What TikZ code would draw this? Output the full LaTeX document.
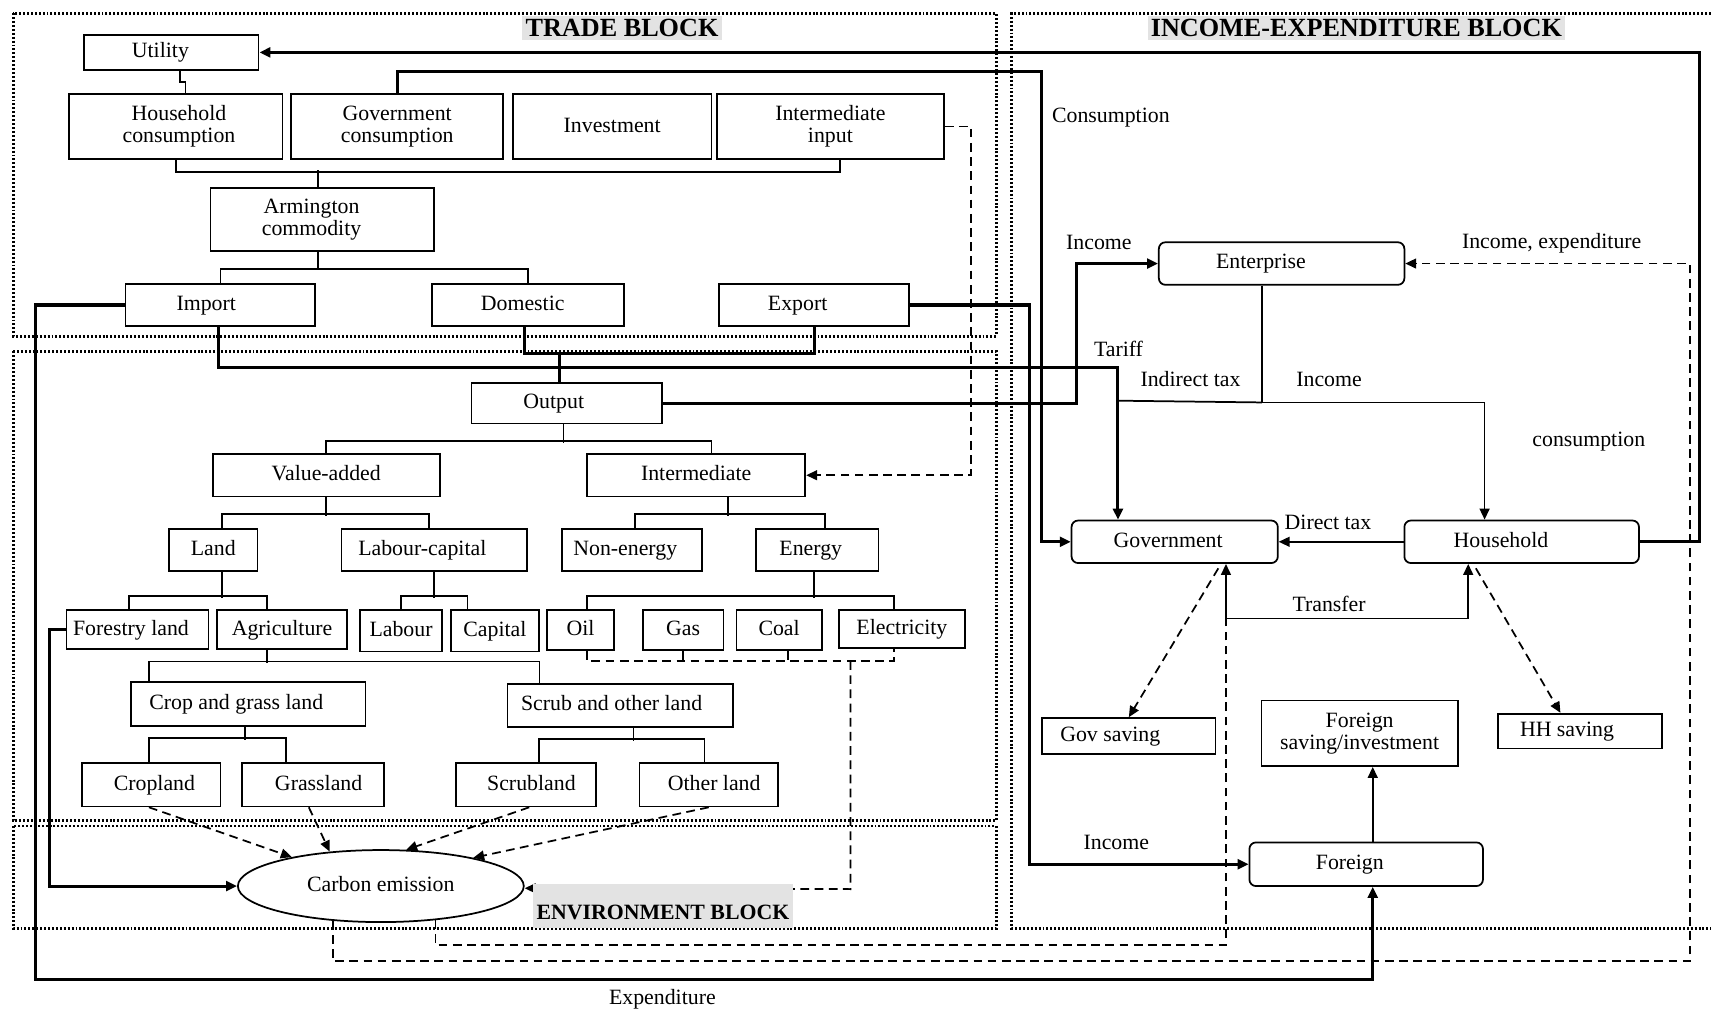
\documentclass[tikz,border=0pt]{standalone}
\usepackage{fontspec}
\setmainfont{Liberation Serif}
\usetikzlibrary{arrows.meta,calc,shapes.geometric}
\begin{document}
\begin{tikzpicture}[x=0.5pt,y=-0.5pt,
  box/.style={draw, line width=0.8pt, inner sep=1pt, align=center, font=\fontsize{10}{10}\selectfont, text height=7pt, text depth=2pt},
  two/.style={text height=, text depth=},
  rbox/.style={box, rounded corners=3pt},
  flow/.style={line width=1.4pt},
  tree/.style={line width=0.8pt},
  dsh/.style={line width=0.8pt, dash pattern=on 4pt off 2.5pt},
  blk/.style={line width=1.3pt, dash pattern=on 0.9pt off 0.9pt},
  lab/.style={font=\fontsize{10}{10}\selectfont, inner sep=1pt},
  head/.style={fill=gray!22, font=\bfseries\fontsize{12}{12}\selectfont, inner sep=1.5pt},
  tip/.style={-{Triangle[length=5pt,width=4.5pt]}},
  tips/.style={{Triangle[length=5pt,width=4.5pt]}-{Triangle[length=5pt,width=4.5pt]}}
]
\useasboundingbox (0,0) rectangle (1568,928);

% ---- blocks ----
\draw[blk] (12,12) rectangle (913,308);
\draw[blk] (12,322) rectangle (913,752);
\draw[blk] (12,757) rectangle (913,851);
\draw[blk] (1568,12) -- (927,12) -- (927,851) -- (1568,851);
\node[head] (htrade) at (570,26) {TRADE BLOCK};
\node[head] (hinc) at (1243,26) {INCOME-EXPENDITURE BLOCK};

% ---- trade block nodes ----
\node[box, minimum width=80pt, minimum height=16pt] (util) at (157,48) {Utility\hspace*{10pt}};
\node[box, two, minimum width=98pt, minimum height=30pt] (hhc) at (161,116) {\hspace*{3pt}Household\\\hspace*{3pt}consumption};
\node[box, two, minimum width=97pt, minimum height=30pt] (govc) at (364,116) {Government\\consumption};
\node[box, minimum width=91pt, minimum height=30pt] (inv) at (561,116) {Investment};
\node[box, two, minimum width=104pt, minimum height=30pt] (intin) at (761,116) {Intermediate\\input};
\node[box, two, minimum width=102.5pt, minimum height=29pt] (arm) at (295.5,201) {Armington\hspace*{10pt}\\commodity\hspace*{10pt}};
\node[box, minimum width=87pt, minimum height=19.5pt] (imp) at (202,279.5) {Import\hspace*{13pt}};
\node[box, minimum width=88pt, minimum height=19.5pt] (dom) at (484,279.5) {Domestic\hspace*{5pt}};
\node[box, minimum width=87pt, minimum height=19.5pt] (exp) at (746,279.5) {Export\hspace*{15pt}};

% ---- production nodes ----
\node[box, minimum width=87.5pt, minimum height=18.5pt] (out) at (519.5,369.5) {Output\hspace*{12pt}};
\node[box, minimum width=104pt, minimum height=19.5pt] (va) at (299,435.5) {Value-added};
\node[box, minimum width=100pt, minimum height=19.5pt] (inter) at (638,435.5) {Intermediate};
\node[box, minimum width=40.5pt, minimum height=19pt] (land) at (195.5,504) {Land};
\node[box, minimum width=85pt, minimum height=19pt] (labcap) at (398,504) {Labour-capital\hspace*{11pt}};
\node[box, minimum width=64pt, minimum height=19pt] (nonen) at (579,504) {Non-energy\hspace*{6pt}};
\node[box, minimum width=56pt, minimum height=19pt] (energy) at (749,504) {Energy\hspace*{6pt}};
\node[box, minimum width=65pt, minimum height=18pt] (forest) at (126,577) {Forestry land\hspace*{6pt}};
\node[box, minimum width=59.5pt, minimum height=18pt] (agri) at (258.5,577) {Agriculture};
\node[box, minimum width=37.5pt, minimum height=19pt] (labour) at (367.5,578) {Labour};
\node[box, minimum width=40.5pt, minimum height=19pt] (capital) at (453.5,578) {Capital};
\node[box, minimum width=31pt, minimum height=18.5pt] (oil) at (532,577.5) {Oil};
\node[box, minimum width=37pt, minimum height=18.5pt] (gas) at (626,577.5) {Gas};
\node[box, minimum width=39pt, minimum height=18.5pt] (coal) at (714,577.5) {Coal};
\node[box, minimum width=57.5pt, minimum height=17.5pt] (elec) at (826.5,576.5) {Electricity};
\node[box, minimum width=107.5pt, minimum height=20pt] (cgl) at (227.5,645) {Crop and grass land\hspace*{11pt}};
\node[box, minimum width=103.5pt, minimum height=19.5pt] (sol) at (568.5,646.5) {Scrub and other land\hspace*{8pt}};
\node[box, minimum width=63.5pt, minimum height=20pt] (cropland) at (138.5,719) {\hspace*{3pt}Cropland};
\node[box, minimum width=65pt, minimum height=20pt] (grass) at (287,719) {\hspace*{5pt}Grassland};
\node[box, minimum width=64pt, minimum height=20pt] (scrub) at (482,719) {\hspace*{5pt}Scrubland};
\node[box, minimum width=63.5pt, minimum height=20pt] (other) at (649.5,719) {\hspace*{5pt}Other land};
\node[box, ellipse, minimum width=131pt, minimum height=33pt] (carbon) at (349,812) {Carbon emission};

% ---- income-expenditure nodes ----
\node[rbox, minimum width=112.5pt, minimum height=19.5pt] (ent) at (1174.5,241.5) {Enterprise\hspace*{19pt}};
\node[rbox, minimum width=94.5pt, minimum height=19.5pt] (gov) at (1076.5,496.5) {Government\hspace*{6pt}};
\node[rbox, minimum width=107.5pt, minimum height=19.5pt] (hh) at (1394.5,496.5) {Household\hspace*{19pt}};
\node[box, minimum width=79.5pt, minimum height=16.5pt] (govsav) at (1034.5,674.5) {Gov saving\hspace*{17pt}};
\node[box, two, minimum width=90pt, minimum height=30pt] (fsav) at (1246,672) {Foreign\\saving/investment};
\node[box, minimum width=75pt, minimum height=16pt] (hhsav) at (1448,670) {HH saving\hspace*{12pt}};
\node[rbox, minimum width=107pt, minimum height=20pt] (foreign) at (1252,792) {Foreign\hspace*{15pt}};

% ---- labels ----
\node[lab] (lcons) at (1018,108) {Consumption};
\node[lab] (linc1) at (1007,222) {Income};
\node[lab] (lie) at (1422,223) {Income, expenditure};
\node[lab] (ltar) at (1025,320) {Tariff};
\node[lab] (lind) at (1091,347) {Indirect tax};
\node[lab] (linc2) at (1218,348) {Income};
\node[lab] (lcons2) at (1456,405) {consumption};
\node[lab] (ldt) at (1217,479) {Direct tax};
\node[lab] (ltr) at (1218,553) {Transfer};
\node[lab] (linc3) at (1023,772) {Income};
\node[lab] (lexp) at (607,916) {Expenditure};

% ---- trade block connectors ----
\draw[tree] ($(util.south)+(8,0)$) -- ++(0,10) -| ($(hhc.north)+(9,0)$);
\draw[tree] (hhc.south) -- ++(0,11) -| ($(intin.south)+(9,0)$);
\draw[tree] ($(arm.north)+(-4,0)$) -- ++(0,-15);
\draw[tree] ($(arm.south)+(-4,0)$) -- ++(0,17);
\draw[tree] (imp.north) -- ++(0,-13) -| (dom.north);
\draw[flow] ($(dom.south)+(-3,0)$) -- ++(0,24) -| (exp.south);
\draw[flow] ($(out.north)+(-7,0)$) -- ++(0,-28);
\draw[flow, tip] ($(imp.south)+(-2,0)$) -- ++(0,37) -| ($(gov.north)+(-52,0)$);
\draw[flow, tip] (out.east) -| ($(ent.west)+(-75,0)$) -- (ent.west);
\draw[flow, tip] (imp.west) -- ++(-82,0) |- ($(foreign.south)+(6,85)$) -- ($(foreign.south)+(6,0)$);
\draw[flow, tip] (exp.east) -| ($(foreign.west)+(-201,0)$) -- (foreign.west);
\draw[flow, tip] (govc.north) -- ++(0,-20) -| ($(gov.west)+(-27,0)$) -- (gov.west);
\draw[flow, tip] (hh.east) -- ++(55,0) |- (util.east);
\draw[dsh, tip] (intin.east) -- ++(24,0) |- (inter.east);

% ---- production tree ----
\draw[tree] ($(out.south)+(-3,0)$) -- ++(0,17);
\draw[tree] (va.north) -- ++(0,-11) -| ($(inter.north)+(14,0)$);
\draw[tree] (va.south) -- ++(0,17);
\draw[tree] ($(land.north)+(8,0)$) -- ++(0,-13) -| ($(labcap.north)+(-5,0)$);
\draw[tree] ($(inter.south)+(29,0)$) -- ++(0,17);
\draw[tree] ($(nonen.north)+(3,0)$) -- ++(0,-13) -| ($(energy.north)+(7,0)$);
\draw[tree] ($(land.south)+(8,0)$) -- ++(0,24);
\draw[tree] ($(forest.north)+(-8,0)$) -- ++(0,-12) -| ($(agri.north)+(-14,0)$);
\draw[tree] (labcap.south) -- ++(0,24);
\draw[tree] (labour.north) -- ++(0,-12) -| ($(capital.north)+(-25,0)$);
\draw[tree] ($(energy.south)+(-3,0)$) -- ++(0,24);
\draw[tree] ($(oil.north)+(6,0)$) -- ++(0,-12) -| ($(elec.north)+(-7,0)$);
\draw[tree] ($(agri.south)+(-14,0)$) -- ++(0,12);
\draw[tree] ($(cgl.north)+(-91,0)$) -- ++(0,-18) -| ($(sol.north)+(-74,0)$);
\draw[tree] ($(cgl.south)+(-3,0)$) -- ++(0,12);
\draw[tree] ($(cropland.north)+(-2,0)$) -- ++(0,-22) -| ($(grass.north)+(-25,0)$);
\draw[tree] ($(sol.south)+(12,0)$) -- ++(0,12);
\draw[tree] ($(scrub.north)+(12,0)$) -- ++(0,-21) -| ($(other.north)+(-4,0)$);

% ---- energy / land to carbon ----
\draw[dsh] ($(oil.south)+(6,0)$) -- ++(0,9) -| ($(elec.south)+(-7,0)$);
\draw[dsh] (gas.south) -- ++(0,9);
\draw[dsh] ($(coal.south)+(8,0)$) -- ++(0,9);
\draw[dsh, tip] ($(elec.south)+(-47,11)$) -- ++(0,209) -- ($(carbon.east)+(0,2)$);
\node[fill=gray!22, minimum width=119.5pt, minimum height=20pt, inner sep=0pt] (envbg) at (607.5,830) {};
\node[font=\bfseries\fontsize{10}{10}\selectfont, inner sep=0pt] (henv) at (607.5,836) {ENVIRONMENT BLOCK};
\draw[flow, tip] (forest.west) -- ++(-15,0) |- (carbon.west);
\draw[dsh, tip] ($(cropland.south)+(-2,0)$) -- (carbon.162);
\draw[dsh, tip] ($(grass.south)+(-4,0)$) -- (carbon.146);
\draw[dsh, tip] ($(scrub.south)+(3,0)$) -- (carbon.55);
\draw[dsh, tip] (other.south) -- (carbon.17);
\draw[dsh] (carbon.-32) -- ++(0,23) -| ($(gov.south)+(47,50)$);
\draw[dsh, tip] (carbon.-144) -- ++(0,37) -| ($(ent.east)+(261,0)$) -- (ent.east);

% ---- income-expenditure connectors ----
\draw[tree, tip] ($(ent.south)+(-18,0)$) -- ++(0,107) -| ($(hh.north)+(-34,0)$);
\draw[tree] ($(ent.south)+(-18,107)$) -- ($(gov.north)+(-51,-109)$);
\draw[tree, tip] (hh.west) -- (gov.east);
\draw[tree, tips] ($(gov.south)+(47,0)$) -- ++(0,50) -| ($(hh.south)+(-49,0)$);
\draw[dsh, tip] ($(gov.south)+(40,4)$) -- (govsav.north);
\draw[dsh, tip] ($(hh.south)+(-42,4)$) -- ($(hhsav.north)+(-18,0)$);
\draw[tree, tip] ($(foreign.north)+(6,0)$) -- ($(fsav.south)+(12,0)$);
\end{tikzpicture}
\end{document}
